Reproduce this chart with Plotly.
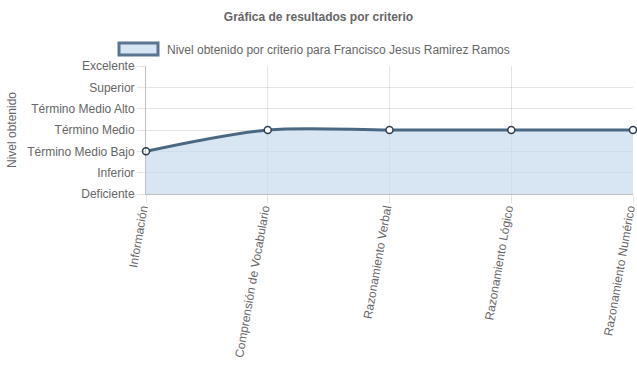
import plotly.graph_objects as go

categories = ["Información", "Comprensión de Vocabulario", "Razonamiento Verbal",
              "Razonamiento Lógico", "Razonamiento Numérico"]
level_labels = ["Deficiente", "Inferior", "Término Medio Bajo", "Término Medio",
                "Término Medio Alto", "Superior", "Excelente"]
values = [2, 3, 3, 3, 3]
series_name = "Nivel obtenido por criterio para Francisco Jesus Ramirez Ramos"

W, H = 637, 389
L, R, T, B = 146, 4, 66, 195
pw, ph = W - L - R, H - T - B

def px_x(p):
    return (p - L) / pw

def px_y(p):
    return (H - B - p) / ph

FONT = "Liberation Sans, Arial, Helvetica, sans-serif"
GREY = "#666666"
LINE = "#4b6883"
FILL = "rgba(200,220,238,0.7)"

fig = go.Figure()
fig.add_trace(go.Scatter(
    x=list(range(len(categories))), y=values,
    mode="lines+markers", fill="tozeroy", fillcolor=FILL, cliponaxis=False,
    line=dict(color=LINE, width=3, shape="spline", smoothing=0.9),
    marker=dict(size=7, color="white", line=dict(color="#2f3f50", width=1.5)),
    name=series_name, showlegend=False, hoverinfo="skip",
))

fig.update_layout(
    width=W, height=H,
    margin=dict(l=L, r=R, t=T, b=B, pad=0, autoexpand=False),
    paper_bgcolor="white", plot_bgcolor="white",
    font=dict(family=FONT, size=12, color=GREY),
    title=dict(text="<b>Gráfica de resultados por criterio</b>", x=0.5, xref="container",
               xanchor="center", y=1 - 17 / H, yref="container", yanchor="middle",
               font=dict(size=12, color=GREY, family=FONT)),
    xaxis=dict(range=[0, len(categories) - 1], tickvals=list(range(len(categories))),
               ticktext=categories, tickangle=-80, showgrid=True,
               gridcolor="rgba(0,0,0,0.1)", gridwidth=1, ticks="outside", ticklen=8,
               tickcolor="rgba(0,0,0,0.1)", showline=True, linecolor="rgba(0,0,0,0.25)",
               linewidth=1, zeroline=False, fixedrange=True, automargin=False,
               ticklabeloverflow="allow", ticklabelstandoff=-6, ticklabelshift=-4,
               tickfont=dict(size=12, color=GREY, family=FONT)),
    yaxis=dict(range=[0, len(level_labels) - 1], tickvals=list(range(len(level_labels))),
               ticktext=level_labels, showgrid=True, gridcolor="rgba(0,0,0,0.1)",
               gridwidth=1, ticks="outside", ticklen=8, tickcolor="rgba(0,0,0,0.1)",
               showline=True, linecolor="rgba(0,0,0,0.25)", linewidth=1,
               zeroline=False, fixedrange=True, ticklabeloverflow="allow", automargin=False,
               tickfont=dict(size=12, color=GREY, family=FONT)),
    shapes=[dict(type="rect", xref="paper", yref="paper",
                 x0=px_x(119), x1=px_x(158), y0=px_y(55), y1=px_y(43),
                 fillcolor="#d6e5f3", line=dict(color="#5b7590", width=3))],
    annotations=[
        dict(text=series_name, xref="paper", yref="paper", x=px_x(165), y=px_y(49.5),
             xanchor="left", yanchor="middle", showarrow=False,
             font=dict(size=12, color=GREY, family=FONT)),
        dict(text="Nivel obtenido", xref="paper", yref="paper", x=px_x(12), y=0.5,
             xanchor="center", yanchor="middle", textangle=-90, showarrow=False,
             font=dict(size=12, color=GREY, family=FONT)),
    ],
)

fig.write_html("out.html", config={"displayModeBar": False},
               post_script="document.body.style.margin='0';document.body.style.overflow='hidden';")
